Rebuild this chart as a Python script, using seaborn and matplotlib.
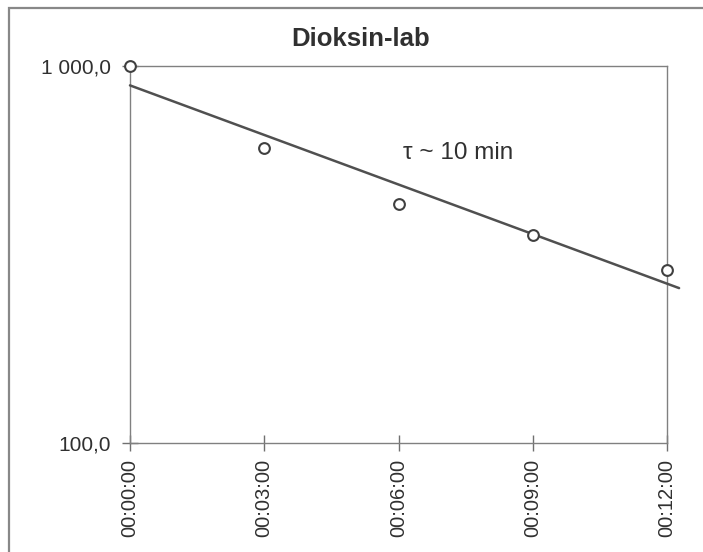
import numpy as np
import pandas as pd
import matplotlib
matplotlib.use("Agg")
import matplotlib.pyplot as plt
from matplotlib.patches import Rectangle
import seaborn as sns

# dados (minutos, concentracao)
minutos = [0, 3, 6, 9, 12]
valores = [1000.0, 607.0, 431.0, 357.0, 287.0]
rotulos_x = ["00:00:00", "00:03:00", "00:06:00", "00:09:00", "00:12:00"]
ticks_y = [100, 1000]
rotulos_y = ["100,0", "1 000,0"]
titulo = "Dioksin-lab"
texto_tau = "\u03c4 ~ 10 min"

sns.set_style("white")
plt.rcParams['font.family'] = ['Liberation Sans', 'DejaVu Sans']

df = pd.DataFrame({'t': minutos, 'c': valores})

# ajuste exponencial (reta no log)
coef = np.polyfit(df['t'], np.log10(df['c']), 1)
t_fit = np.linspace(0, 12.27, 50)
df_fit = pd.DataFrame({'t': t_fit, 'c': 10 ** np.polyval(coef, t_fit)})

fig = plt.figure(figsize=(7.03, 5.52), dpi=100)
ax = fig.add_axes([130 / 703, 109 / 552, 537 / 703, 377 / 552])

sns.lineplot(data=df_fit, x='t', y='c', ax=ax, color='#505050', linewidth=1.8,
             zorder=3, clip_on=False)
sns.scatterplot(data=df, x='t', y='c', ax=ax, marker='o', s=60, facecolor='white',
                edgecolor='#404040', linewidth=1.5, zorder=4, clip_on=False)

ax.set_yscale('log')
ax.set_xlim(0, 12)
ax.set_ylim(100, 1000)
ax.set_yticks(ticks_y)
ax.set_yticklabels(rotulos_y)
ax.yaxis.set_minor_locator(matplotlib.ticker.NullLocator())
ax.set_xticks(minutos)
ax.set_xticklabels(rotulos_x, rotation=90)
ax.tick_params(axis='both', bottom=True, left=True, direction='inout', length=11,
               width=1, color='#707070', labelsize=14.5, labelcolor='#303030')
ax.tick_params(axis='y', pad=8, labelsize=15)
ax.tick_params(axis='x', pad=6)
ax.set_xlabel('')
ax.set_ylabel('')
for s in ax.spines.values():
    s.set_color('#808080')
    s.set_linewidth(1)

ax.text(6.1, 589, texto_tau, fontsize=17.5, color='#303030', va='center', ha='left')

fig.text(361 / 703, 1 - 39 / 552, titulo, fontsize=18.5, fontweight='bold',
         color='#303030', ha='center', va='center')

# moldura da area do grafico
fig.patches.append(Rectangle((9 / 703, -0.1), 1.2, 1.1 - 8 / 552,
                             transform=fig.transFigure, fill=False,
                             edgecolor='#888888', linewidth=1.6))

plt.savefig('out.png', dpi=100)
